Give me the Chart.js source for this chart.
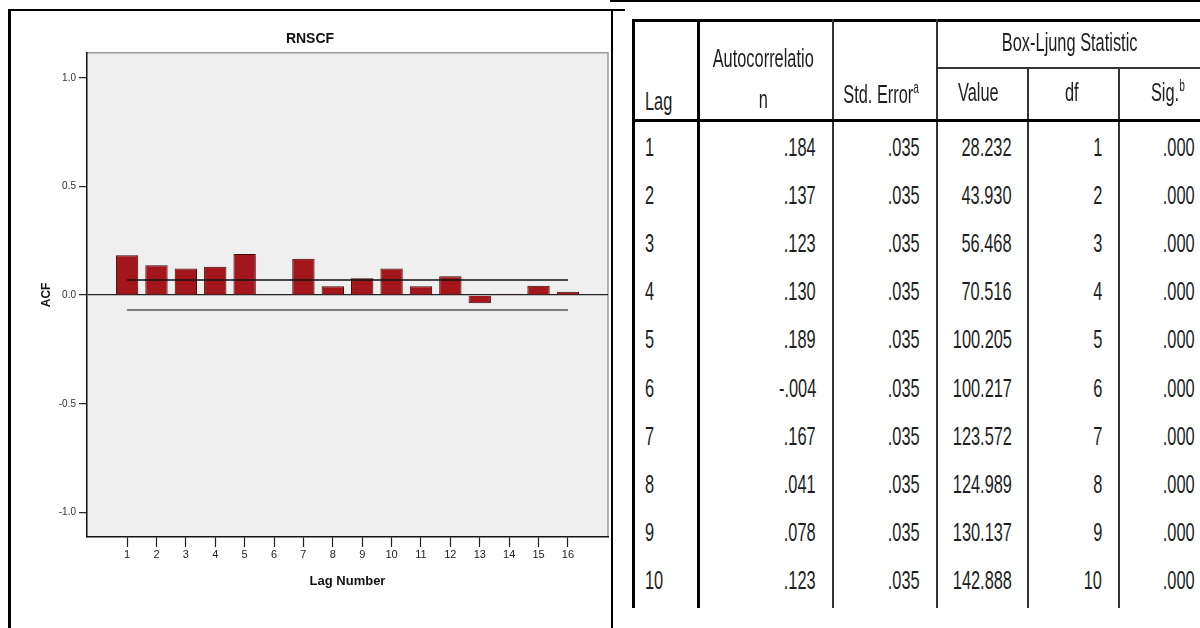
<!DOCTYPE html>
<html><head><meta charset="utf-8">
<script src="https://cdn.jsdelivr.net/npm/chart.js@4"></script>
<style>
html,body{margin:0;padding:0;background:#fff;width:1200px;height:628px;overflow:hidden;font-family:"Liberation Sans",Arial,sans-serif;}
#wrap{position:absolute;left:0;top:0;width:612px;height:628px;}
.ln{position:absolute;background:#111;}
.t{position:absolute;white-space:nowrap;font-size:26px;color:#1e1e1e;line-height:26px;height:26px;}
.t span{display:inline-block;transform:scaleX(0.63);}
.t sup{font-size:16px;vertical-align:top;line-height:14px;}
</style></head>
<body>
<div id="wrap"><canvas id="c" width="612" height="628"></canvas></div>
<div id="tbl"></div>
<script>
// ---- chart data ----
const chartTitle = 'RNSCF';
const lags = [1,2,3,4,5,6,7,8,9,10,11,12,13,14,15,16];
const acfValues = [0.184,0.137,0.123,0.130,0.189,-0.004,0.167,0.041,0.078,0.123,0.041,0.087,-0.037,0.006,0.043,0.015];
const upperConfLimit = 0.069;
const lowerConfLimit = -0.069;
const yTickValues = [-1.0,-0.5,0.0,0.5,1.0];

// ---- table data ----
const tableLags = [1,2,3,4,5,6,7,8,9,10];
const tableAcf = ['.184','.137','.123','.130','.189','-.004','.167','.041','.078','.123'];
const tableStdErr = ['.035','.035','.035','.035','.035','.035','.035','.035','.035','.035'];
const tableBoxLjung = ['28.232','43.930','56.468','70.516','100.205','100.217','123.572','124.989','130.137','142.888'];
const tableDf = [1,2,3,4,5,6,7,8,9,10];
const tableSig = ['.000','.000','.000','.000','.000','.000','.000','.000','.000','.000'];

Chart.defaults.font.family = '"Liberation Sans", Arial, sans-serif';

const bgPlugin = {
  id:'plotBg',
  beforeDraw(chart){
    const {ctx, chartArea:a} = chart;
    ctx.save();
    ctx.fillStyle = '#efefef';
    ctx.fillRect(a.left, a.top, a.right-a.left, a.bottom-a.top);
    ctx.strokeStyle = '#9a9a9a';
    ctx.lineWidth = 1.5;
    ctx.beginPath();
    ctx.moveTo(a.left, a.top); ctx.lineTo(a.right, a.top); ctx.lineTo(a.right, a.bottom);
    ctx.stroke();
    ctx.restore();
  }
};

const first = lags[0], last = lags[lags.length-1];
new Chart(document.getElementById('c'), {
  type:'bar',
  data:{
    datasets:[
      {type:'line', data:[{x:first,y:upperConfLimit},{x:last,y:upperConfLimit}], borderColor:'#111', borderWidth:1.5, pointRadius:0, order:0},
      {type:'line', data:[{x:first,y:lowerConfLimit},{x:last,y:lowerConfLimit}], borderColor:'#555', borderWidth:1.5, pointRadius:0, order:0},
      {type:'bar', data:lags.map((l,i)=>({x:l,y:acfValues[i]})), backgroundColor:'#a3161b', borderColor:'#3d0808', borderWidth:1, categoryPercentage:1, barPercentage:0.76, order:1}
    ]
  },
  options:{
    responsive:false, animation:false,
    layout:{padding:{left:12,right:4,top:0,bottom:0}},
    plugins:{
      legend:{display:false}, tooltip:{enabled:false},
      title:{display:true, text:chartTitle, color:'#111', font:{size:14, weight:'bold'}, padding:{top:31,bottom:5}}
    },
    scales:{
      x:{
        type:'linear', min:first-1.364, max:last+1.364, offset:false,
        afterBuildTicks:s=>{ s.ticks = lags.map(v=>({value:v})); },
        ticks:{font:{size:11}, color:'#222', padding:1, autoSkip:false, maxRotation:0, callback:v=>String(v)},
        grid:{offset:false, drawOnChartArea:false, tickLength:10, tickColor:'#222', tickWidth:1.2},
        border:{color:'#111', width:1.5},
        title:{display:true, text:'Lag Number', color:'#111', font:{size:13, weight:'bold'}, padding:{top:4,bottom:39}},
        afterFit:s=>{ s.height = 91; }
      },
      y:{
        min:-1.113, max:1.115,
        afterBuildTicks:s=>{ s.ticks = yTickValues.map(v=>({value:v})); },
        ticks:{font:{size:10}, color:'#333', padding:3, callback:v=>Number(v).toFixed(1)},
        grid:{drawOnChartArea:true, color:c=> (c.tick && Math.abs(c.tick.value)<1e-9) ? '#222' : 'rgba(0,0,0,0)', lineWidth:1.3, tickLength:8, tickColor:'#222', tickWidth:1.2},
        border:{color:'#111', width:1.5},
        title:{display:true, text:'ACF', color:'#111', font:{size:12, weight:'bold'}, padding:{top:27,bottom:0}},
        afterFit:s=>{ s.width = 75; }
      }
    }
  },
  plugins:[bgPlugin]
});

// ---- frame + table (HTML) ----
const tbl = document.getElementById('tbl');
function line(l,t,w,h,c){
  const d=document.createElement('div'); d.className='ln';
  d.style.left=l+'px'; d.style.top=t+'px'; d.style.width=w+'px'; d.style.height=h+'px';
  if(c) d.style.background=c;
  tbl.appendChild(d);
}
function txt(html,x,y,align){
  const d=document.createElement('div'); d.className='t';
  const s=document.createElement('span'); s.innerHTML=html; d.appendChild(s);
  d.style.top=(y-13)+'px';
  if(align==='left'){ d.style.left=x+'px'; s.style.transformOrigin='left center'; }
  else if(align==='right'){ d.style.right=(1200-x)+'px'; s.style.transformOrigin='right center'; }
  else { d.style.left=(x-200)+'px'; d.style.width='400px'; d.style.textAlign='center'; s.style.transformOrigin='center center'; }
  tbl.appendChild(d);
}
// frame of left panel
line(8,9,3,619,'#000');
line(8,9,617,2,'#000');
line(611,9,2,619,'#000');
line(610,0,590,2,'#000');
// table lines
const tTop=19, tBot=608;
line(632,tTop,568,3,'#000');
line(632,tTop,3,tBot-tTop,'#000');
line(697,tTop,3,tBot-tTop,'#000');
line(832,tTop,2,tBot-tTop,'#333');
line(936,tTop,2,tBot-tTop,'#333');
line(936,67,264,2,'#333');
line(1027,67,2,tBot-67,'#333');
line(1118,67,2,tBot-67,'#333');
line(632,119,568,3,'#000');
// header text
txt('Lag',645,101,'left');
txt('Autocorrelatio',763,58,'center');
txt('n',763,99,'center');
txt('Std. Error<sup>a</sup>',881,94,'center');
txt('Box-Ljung Statistic',1070,42,'center');
txt('Value',978,92,'center');
txt('df',1072,92,'center');
txt('Sig.<sup>b</sup>',1168,92,'center');
// rows
tableLags.forEach((lag,i)=>{
  const y = 147 + i*48.1;
  txt(String(lag),645,y,'left');
  txt(tableAcf[i],816,y,'right');
  txt(tableStdErr[i],920,y,'right');
  txt(tableBoxLjung[i],1012,y,'right');
  txt(String(tableDf[i]),1102,y,'right');
  txt(tableSig[i],1195,y,'right');
});
</script>
</body></html>
